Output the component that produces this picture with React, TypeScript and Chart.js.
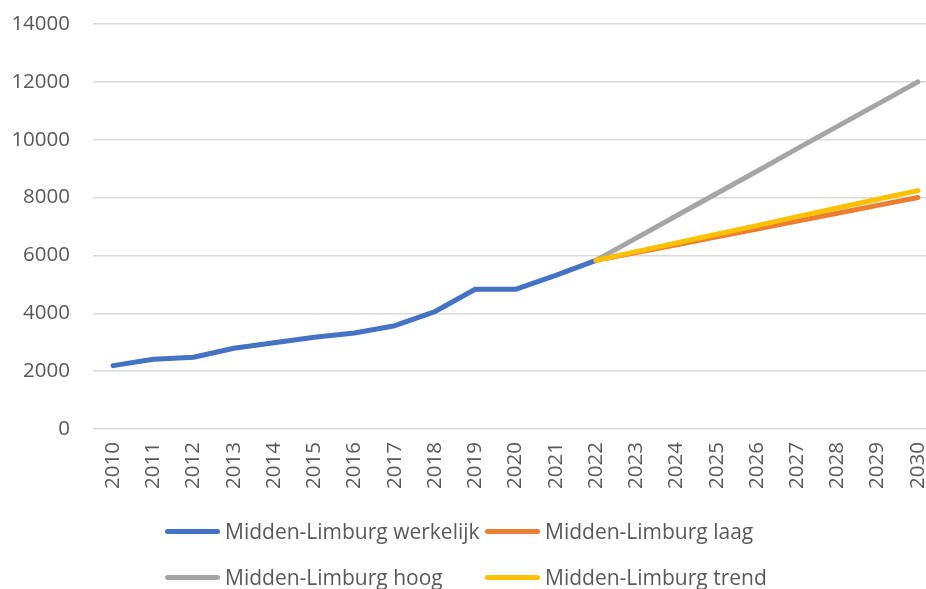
import React, { useEffect, useRef } from "react";
import { Chart, registerables } from "chart.js";

Chart.register(...registerables);

const years = [
  "2010", "2011", "2012", "2013", "2014", "2015", "2016", "2017", "2018", "2019", "2020",
  "2021", "2022", "2023", "2024", "2025", "2026", "2027", "2028", "2029", "2030",
];
const werkelijk = [2190, 2410, 2480, 2790, 2980, 3170, 3320, 3570, 4060, 4830, 4830, 5310, 5830,
  null, null, null, null, null, null, null, null];
const laag = [null, null, null, null, null, null, null, null, null, null, null, null,
  5830, 6100, 6370, 6640, 6910, 7190, 7460, 7730, 8000];
const hoog = [null, null, null, null, null, null, null, null, null, null, null, null,
  5830, 6600, 7370, 8140, 8910, 9690, 10460, 11230, 12000];
const trend = [null, null, null, null, null, null, null, null, null, null, null, null,
  5830, 6130, 6430, 6730, 7030, 7340, 7640, 7940, 8240];

const seriesNames = [
  "Midden-Limburg werkelijk",
  "Midden-Limburg laag",
  "Midden-Limburg hoog",
  "Midden-Limburg trend",
];
const seriesColors = ["#4472C4", "#ED7D31", "#A5A5A5", "#FFC000"];

const FONT = "'Open Sans', 'Noto Sans', sans-serif";
const TEXT = "#595959";

export default function App() {
  const ref = useRef<HTMLCanvasElement | null>(null);

  useEffect(() => {
    if (!ref.current) return;
    const values = [werkelijk, laag, hoog, trend];
    const orders = [3, 1, 2, 0];
    const chart = new Chart(ref.current, {
      type: "line",
      data: {
        labels: years,
        datasets: values.map((d, i) => ({
          label: seriesNames[i],
          data: d,
          borderColor: seriesColors[i],
          backgroundColor: seriesColors[i],
          borderWidth: 5,
          borderCapStyle: "round",
          borderJoinStyle: "round",
          pointRadius: 0,
          pointHoverRadius: 0,
          tension: 0,
          spanGaps: false,
          order: orders[i],
        })),
      },
      options: {
        animation: false,
        responsive: true,
        maintainAspectRatio: false,
        devicePixelRatio: 1,
        layout: { padding: { top: 24, bottom: 90, left: 0, right: 0 } },
        plugins: {
          legend: { display: false },
          tooltip: { enabled: false },
        },
        scales: {
          x: {
            type: "category",
            offset: true,
            grid: { display: false, drawTicks: false },
            border: { display: false },
            ticks: {
              color: TEXT,
              font: { family: FONT, size: 20.5 },
              maxRotation: 90,
              minRotation: 90,
              autoSkip: false,
              padding: 13,
            },
            afterFit: (s: any) => {
              s.height = 70;
              s.paddingLeft = 0;
              s.paddingRight = 0;
              s.paddingTop = 0;
              s.paddingBottom = 0;
            },
          },
          y: {
            min: 0,
            max: 14000,
            grid: { color: "#D9D9D9", lineWidth: 1.5, drawTicks: false },
            border: { display: false },
            ticks: {
              stepSize: 2000,
              color: TEXT,
              font: { family: FONT, size: 20.5 },
              padding: 23,
              callback: (v: any) => String(v),
            },
            afterFit: (s: any) => {
              s.width = 93;
              s.paddingTop = 0;
              s.paddingBottom = 0;
            },
          },
        },
      },
    });
    return () => chart.destroy();
  }, []);

  const legendItem = (i: number, left: number, top: number) => (
    <div
      key={i}
      style={{
        position: "absolute",
        left,
        top: top - 15,
        height: 30,
        display: "flex",
        alignItems: "center",
        whiteSpace: "nowrap",
      }}
    >
      <span
        style={{
          display: "inline-block",
          width: 55,
          height: 5,
          borderRadius: 3,
          background: seriesColors[i],
          marginRight: 5,
        }}
      />
      <span style={{ fontFamily: FONT, fontSize: 21, color: TEXT, lineHeight: "30px" }}>
        {seriesNames[i]}
      </span>
    </div>
  );

  return (
    <div
      style={{
        position: "fixed",
        left: 0,
        top: 0,
        width: 926,
        height: 589,
        overflow: "hidden",
        background: "#ffffff",
      }}
    >
      <div style={{ position: "absolute", left: 0, top: 0, width: 938, height: 589 }}>
        <canvas ref={ref} />
      </div>
      {legendItem(0, 165, 531)}
      {legendItem(1, 485, 531)}
      {legendItem(2, 165, 577)}
      {legendItem(3, 485, 577)}
    </div>
  );
}
